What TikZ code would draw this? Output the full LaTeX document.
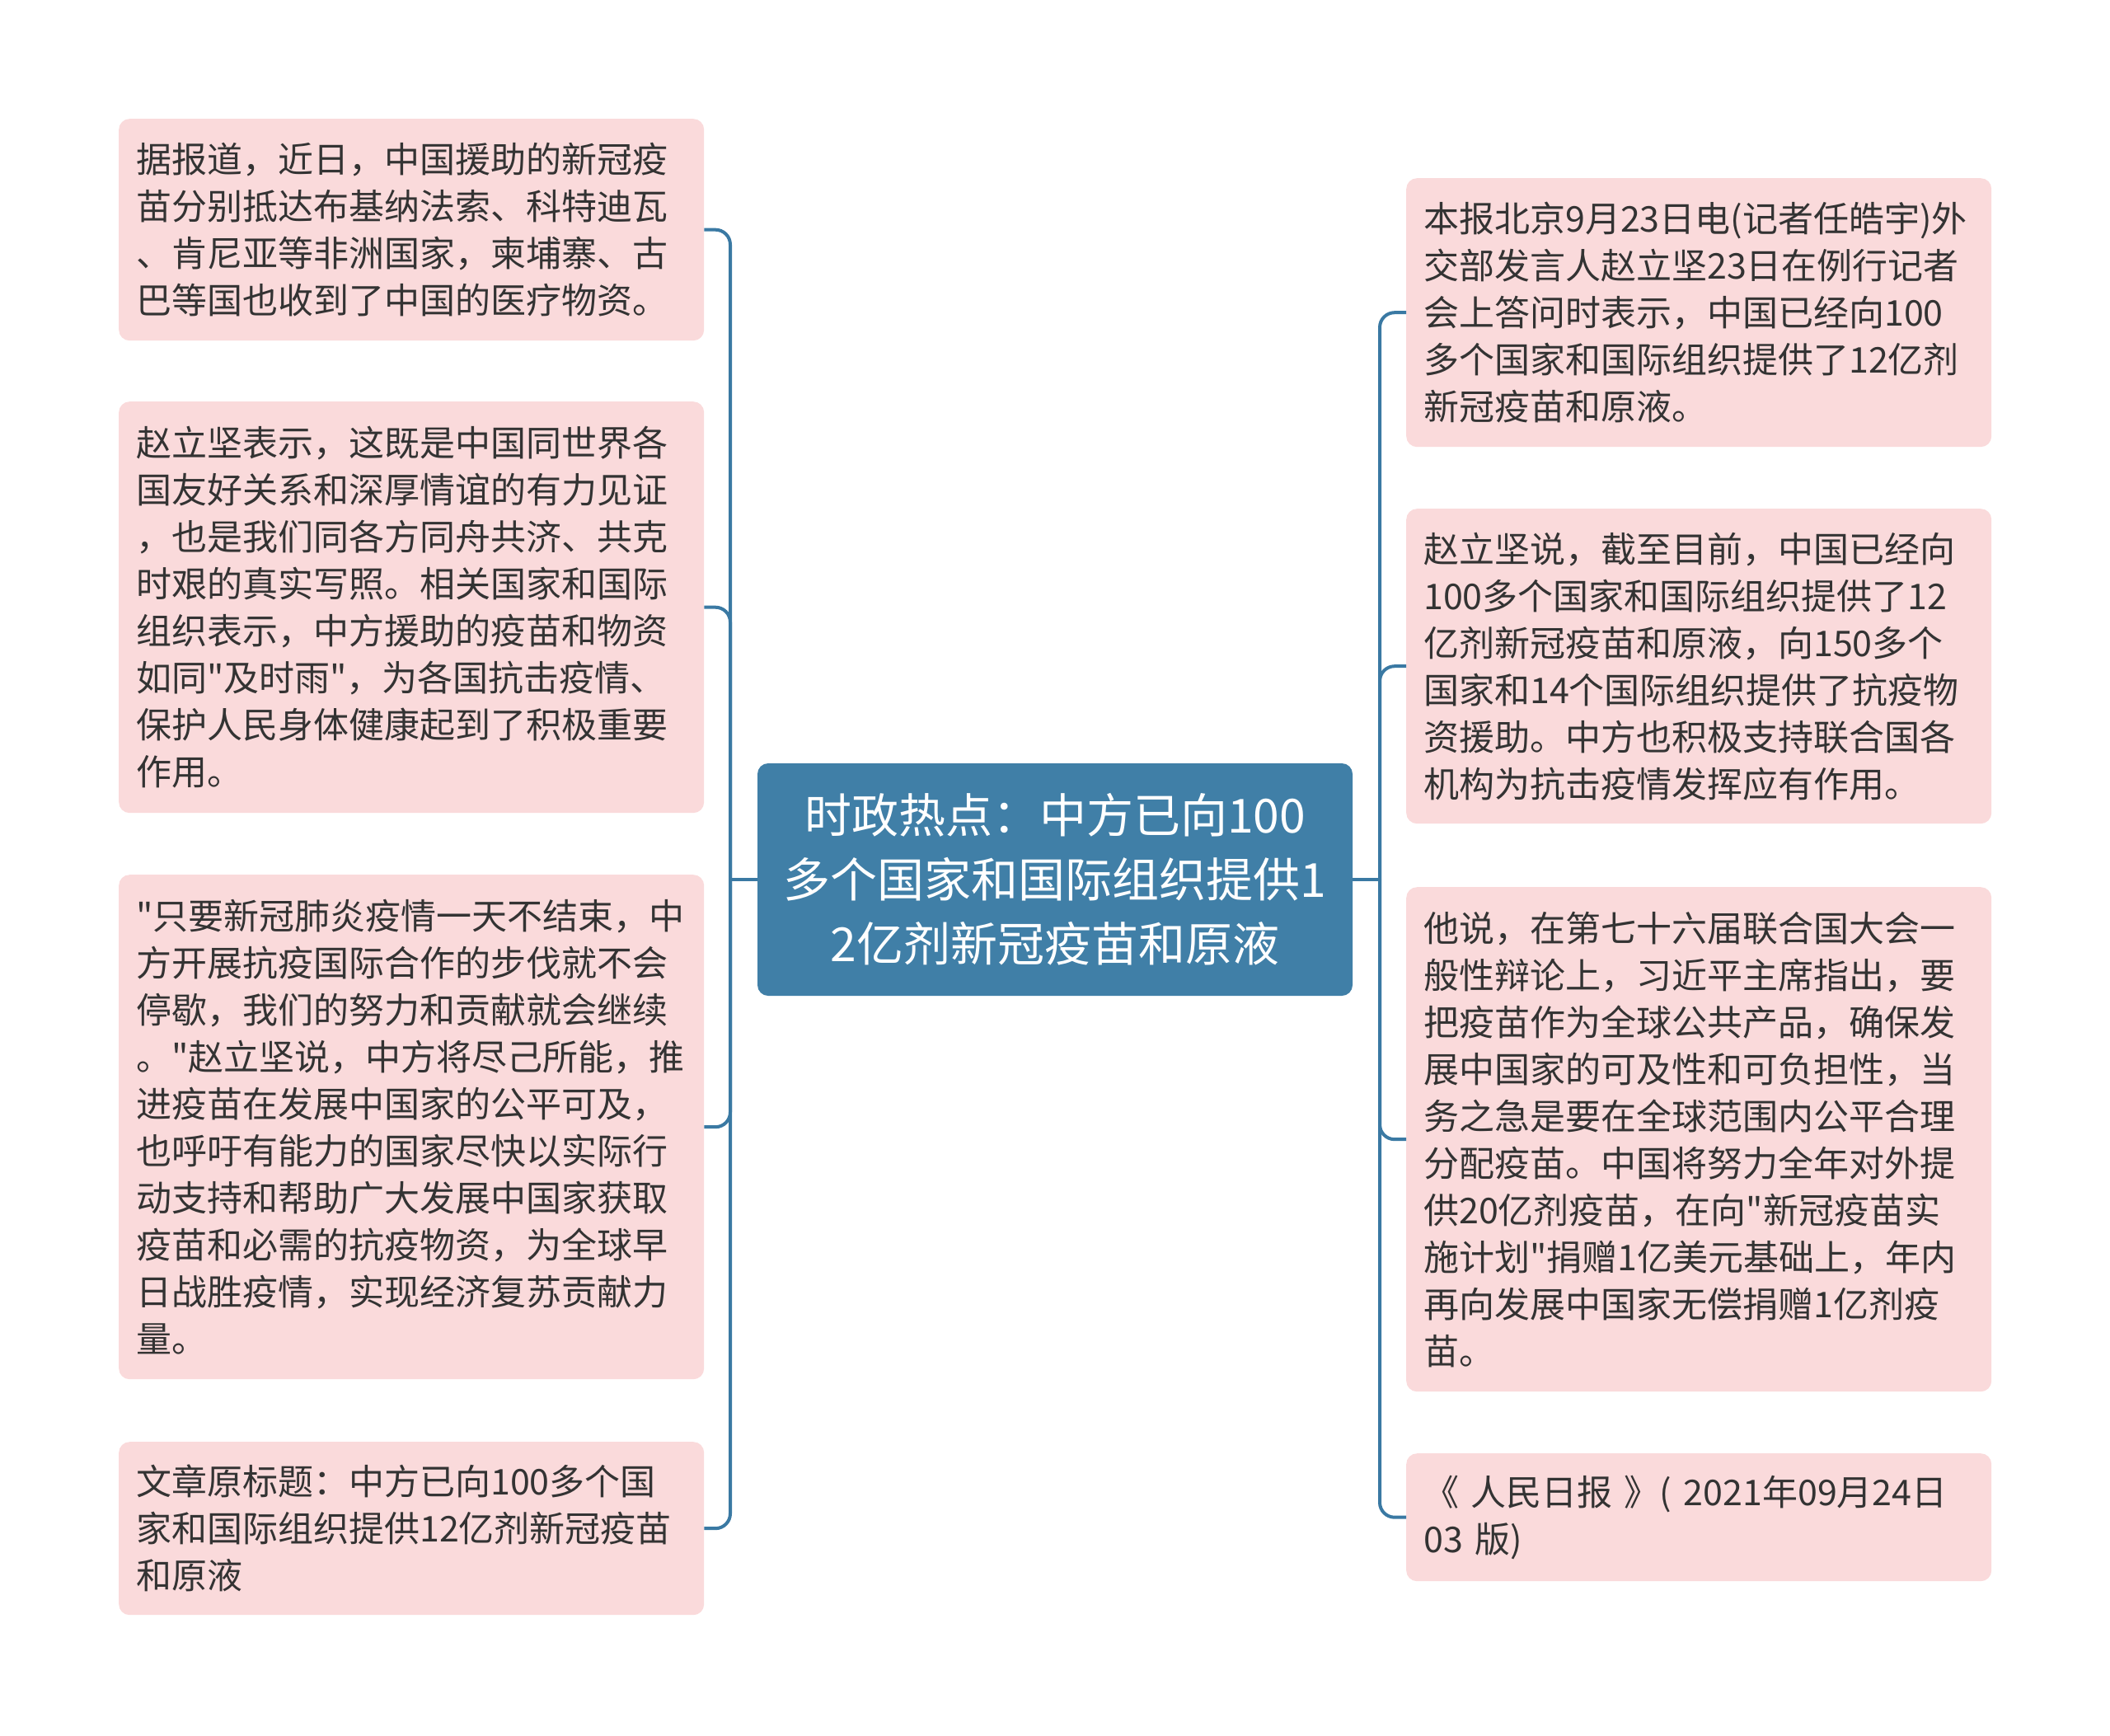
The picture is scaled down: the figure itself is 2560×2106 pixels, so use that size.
\documentclass[tikz,border=0pt]{standalone}
\usepackage{fontspec}
\newfontfamily\cjkf{Noto Sans CJK SC}
\definecolor{linec}{RGB}{58,121,163}
\definecolor{rootc}{RGB}{64,127,167}
\definecolor{pinkc}{RGB}{250,218,219}
\definecolor{txtc}{RGB}{51,51,51}
\tikzset{
 leaf/.style={fill=pinkc, rounded corners=13pt, text=txtc, font=\cjkf\fontsize{43pt}{57pt}\selectfont, align=left, text width=668pt, inner xsep=21pt, inner ysep=0pt, anchor=north west},
 root/.style={fill=rootc, rounded corners=13pt, text=white, font=\cjkf\fontsize{57pt}{78pt}\selectfont, align=center, minimum width=722pt, minimum height=282pt, inner sep=0pt},
 conn/.style={draw=linec, line width=4pt, rounded corners=18pt}
}
\begin{document}
\begin{tikzpicture}[x=1pt,y=-1pt]
\useasboundingbox (0,0) rectangle (2560,2106);
\node[root] (c) at (1280,1067) {时政热点：中方已向100\\多个国家和国际组织提供1\\2亿剂新冠疫苗和原液};
\node[leaf, minimum height=269pt] (l1) at (144,144) {据报道，近日，中国援助的新冠疫\\苗分别抵达布基纳法索、科特迪瓦\\、肯尼亚等非洲国家，柬埔寨、古\\巴等国也收到了中国的医疗物资。};
\node[leaf, minimum height=499pt] (l2) at (144,487) {赵立坚表示，这既是中国同世界各\\国友好关系和深厚情谊的有力见证\\，也是我们同各方同舟共济、共克\\时艰的真实写照。相关国家和国际\\组织表示，中方援助的疫苗和物资\\如同"及时雨"，为各国抗击疫情、\\保护人民身体健康起到了积极重要\\作用。};
\node[leaf, minimum height=612pt] (l3) at (144,1061) {"只要新冠肺炎疫情一天不结束，中\\方开展抗疫国际合作的步伐就不会\\停歇，我们的努力和贡献就会继续\\。"赵立坚说，中方将尽己所能，推\\进疫苗在发展中国家的公平可及，\\也呼吁有能力的国家尽快以实际行\\动支持和帮助广大发展中国家获取\\疫苗和必需的抗疫物资，为全球早\\日战胜疫情，实现经济复苏贡献力\\量。};
\node[leaf, minimum height=210pt] (l4) at (144,1749) {文章原标题：中方已向100多个国\\家和国际组织提供12亿剂新冠疫苗\\和原液};
\node[leaf, minimum height=326pt] (r1) at (1706,216) {本报北京9月23日电(记者任皓宇)外\\交部发言人赵立坚23日在例行记者\\会上答问时表示，中国已经向100\\多个国家和国际组织提供了12亿剂\\新冠疫苗和原液。};
\node[leaf, minimum height=382pt] (r2) at (1706,617) {赵立坚说，截至目前，中国已经向\\100多个国家和国际组织提供了12\\亿剂新冠疫苗和原液，向150多个\\国家和14个国际组织提供了抗疫物\\资援助。中方也积极支持联合国各\\机构为抗击疫情发挥应有作用。};
\node[leaf, minimum height=612pt] (r3) at (1706,1076) {他说，在第七十六届联合国大会一\\般性辩论上，习近平主席指出，要\\把疫苗作为全球公共产品，确保发\\展中国家的可及性和可负担性，当\\务之急是要在全球范围内公平合理\\分配疫苗。中国将努力全年对外提\\供20亿剂疫苗，在向"新冠疫苗实\\施计划"捐赠1亿美元基础上，年内\\再向发展中国家无偿捐赠1亿剂疫\\苗。};
\node[leaf, minimum height=155pt] (r4) at (1706,1763) {《~人民日报~》(~2021年09月24日\\03~版)};
\coordinate (lj) at (886,1067);
\coordinate (rj) at (1674,1067);
\draw[conn] (c.west) -- (lj);
\draw[conn] (c.east) -- (rj);
\draw[conn] (lj) |- (l1.east);
\draw[conn] (lj) |- (l2.east);
\draw[conn] (lj) |- (l3.east);
\draw[conn] (lj) |- (l4.east);
\draw[conn] (rj) |- (r1.west);
\draw[conn] (rj) |- (r2.west);
\draw[conn] (rj) |- (r3.west);
\draw[conn] (rj) |- (r4.west);
\end{tikzpicture}
\end{document}
